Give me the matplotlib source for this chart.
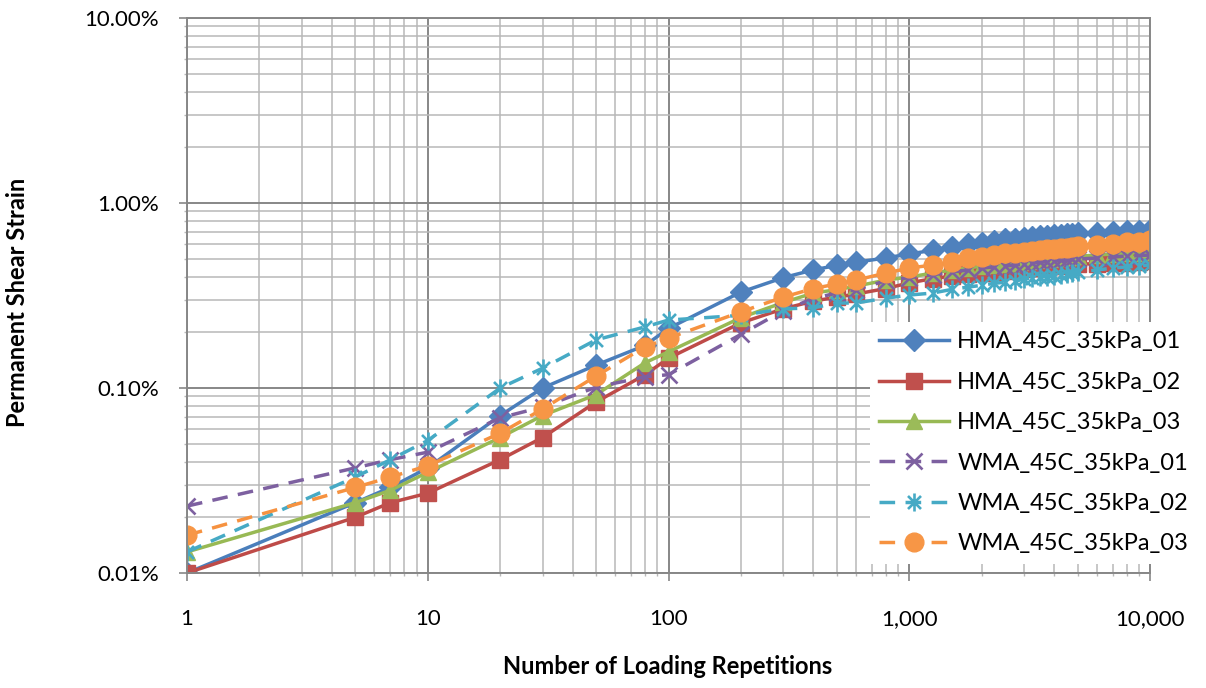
import matplotlib
matplotlib.use("Agg")
import matplotlib.pyplot as plt
from matplotlib.path import Path
from matplotlib.ticker import FixedLocator, FuncFormatter, NullFormatter, LogLocator

# Loading repetitions at which permanent shear strain was recorded
repetitions = [1, 5, 7, 10, 20, 30, 50, 80, 100, 200, 300, 400, 500, 600, 800,
               1000, 1250, 1500, 1750, 2000, 2250, 2500, 2750, 3000, 3250, 3500,
               3750, 4000, 4250, 4500, 4750, 5000, 6000, 7000, 8000, 9000, 10000]

# Permanent shear strain, in percent
hma_01 = [0.010, 0.024, 0.029, 0.037, 0.071, 0.100, 0.133, 0.170, 0.210, 0.330,
          0.395, 0.435, 0.460, 0.478, 0.505, 0.530, 0.555, 0.575, 0.600, 0.610,
          0.625, 0.635, 0.640, 0.648, 0.655, 0.660, 0.663, 0.668, 0.672, 0.677,
          0.680, 0.685, 0.690, 0.697, 0.703, 0.708, 0.714]
hma_02 = [0.010, 0.020, 0.024, 0.027, 0.041, 0.054, 0.084, 0.118, 0.145, 0.225,
          0.268, 0.295, 0.310, 0.322, 0.345, 0.370, 0.390, 0.403, 0.414, 0.420,
          0.425, 0.430, 0.434, 0.440, 0.444, 0.448, 0.452, 0.455, 0.458, 0.461,
          0.464, 0.467, 0.470, 0.474, 0.476, 0.480, 0.483]
hma_03 = [0.013, 0.024, 0.028, 0.035, 0.054, 0.071, 0.092, 0.137, 0.157, 0.240,
          0.290, 0.326, 0.340, 0.355, 0.383, 0.398, 0.418, 0.434, 0.445, 0.457,
          0.462, 0.468, 0.474, 0.480, 0.486, 0.492, 0.496, 0.499, 0.503, 0.506,
          0.510, 0.515, 0.523, 0.530, 0.535, 0.538, 0.544]
wma_01 = [0.023, 0.037, 0.041, 0.045, 0.069, 0.079, 0.101, 0.115, 0.118, 0.195,
          0.262, 0.305, 0.326, 0.340, 0.380, 0.395, 0.409, 0.424, 0.434, 0.445,
          0.451, 0.457, 0.462, 0.468, 0.474, 0.478, 0.482, 0.486, 0.489, 0.492,
          0.495, 0.498, 0.504, 0.510, 0.517, 0.520, 0.523]
wma_02 = [0.013, 0.033, 0.041, 0.052, 0.100, 0.128, 0.182, 0.214, 0.233, 0.247,
          0.268, 0.271, 0.288, 0.288, 0.306, 0.318, 0.326, 0.341, 0.351, 0.359,
          0.368, 0.373, 0.378, 0.388, 0.393, 0.398, 0.400, 0.403, 0.409, 0.414,
          0.418, 0.424, 0.434, 0.445, 0.451, 0.457, 0.462]
wma_03 = [0.016, 0.029, 0.033, 0.038, 0.057, 0.077, 0.116, 0.167, 0.186, 0.258,
          0.310, 0.345, 0.365, 0.383, 0.418, 0.445, 0.462, 0.480, 0.504, 0.510,
          0.523, 0.537, 0.540, 0.544, 0.551, 0.557, 0.564, 0.567, 0.571, 0.574,
          0.578, 0.586, 0.590, 0.600, 0.612, 0.618, 0.631]

series_names = ["HMA_45C_35kPa_01", "HMA_45C_35kPa_02", "HMA_45C_35kPa_03",
                "WMA_45C_35kPa_01", "WMA_45C_35kPa_02", "WMA_45C_35kPa_03"]

x_ticks = [1, 10, 100, 1000, 10000]
y_ticks = [0.01, 0.1, 1, 10]

plt.rcParams["font.family"] = ["Lato", "DejaVu Sans"]

# six-armed star marker (vertical bar plus an X)
star = Path([(0, -1), (0, 1), (-0.72, -0.72), (0.72, 0.72), (-0.72, 0.72), (0.72, -0.72)],
            [Path.MOVETO, Path.LINETO, Path.MOVETO, Path.LINETO, Path.MOVETO, Path.LINETO])

dash = (0, (4.5, 3))
styles = [
    dict(color="#4A7EBB", ls="-", marker="D", ms=11, mfc="#4F81BD", mec="#4F81BD"),
    dict(color="#BE4B48", ls="-", marker="s", ms=11, mfc="#C0504D", mec="#C0504D"),
    dict(color="#98B954", ls="-", marker="^", ms=12, mfc="#9BBB59", mec="#9BBB59"),
    dict(color="#7D60A0", ls=dash, marker="x", ms=12, mfc="none", mec="#7D60A0", mew=1.9),
    dict(color="#46AAC5", ls=dash, marker=star, ms=13, mfc="none", mec="#46AAC5", mew=1.9),
    dict(color="#F69240", ls=dash, marker="o", ms=13.5, mfc="#F79646", mec="#F79646"),
]

fig = plt.figure(figsize=(12.06, 6.88), dpi=100)
ax = fig.add_axes([187 / 1206, 1 - 573 / 688, (1150 - 187) / 1206, (573 - 18) / 688])

for name, values, st in zip(series_names, [hma_01, hma_02, hma_03, wma_01, wma_02, wma_03], styles):
    ax.plot(repetitions, values, lw=2.5, label=name, **st)

ax.set_xscale("log")
ax.set_yscale("log")
ax.set_xlim(1, 10000)
ax.set_ylim(0.01, 10)

ax.xaxis.set_major_locator(FixedLocator(x_ticks))
ax.yaxis.set_major_locator(FixedLocator(y_ticks))
ax.xaxis.set_minor_locator(LogLocator(base=10, subs=range(2, 10)))
ax.yaxis.set_minor_locator(LogLocator(base=10, subs=range(2, 10)))
ax.xaxis.set_major_formatter(FuncFormatter(lambda v, p: f"{v:,.0f}"))
ax.yaxis.set_major_formatter(FuncFormatter(lambda v, p: f"{v:.2f}%"))
ax.xaxis.set_minor_formatter(NullFormatter())
ax.yaxis.set_minor_formatter(NullFormatter())

ax.grid(which="major", color="#878787", lw=1.4)
ax.grid(which="minor", color="#B8B8B8", lw=1.1)
ax.set_axisbelow(True)
for s in ax.spines.values():
    s.set_color("#878787")
    s.set_linewidth(1.4)

ax.tick_params(axis="both", which="major", direction="out", length=6, width=1.2,
               color="#878787", labelsize=16, labelcolor="black")
ax.tick_params(axis="both", which="minor", direction="out", length=2, width=1.0,
               color="#B8B8B8")
ax.tick_params(axis="x", which="major", pad=20)
ax.tick_params(axis="y", which="major", pad=14)

fig.text(668 / 1206, 1 - 667 / 688, "Number of Loading Repetitions", ha="center", va="center",
         fontsize=17, fontweight="bold")
fig.text(18 / 1206, 1 - 302 / 688, "Permanent Shear Strain", ha="center", va="center",
         rotation=90, fontsize=17, fontweight="bold")

leg = ax.legend(loc="upper left", bbox_to_anchor=(870 / 1206, 1 - 322 / 688),
                bbox_transform=fig.transFigure, fontsize=17, frameon=True,
                fancybox=False, edgecolor="none", facecolor="white", framealpha=1,
                handlelength=2.95, handletextpad=0.35, labelspacing=0.82,
                borderpad=0.4, borderaxespad=0)
leg.set_zorder(10)

fig.savefig("out.png", dpi=100)
